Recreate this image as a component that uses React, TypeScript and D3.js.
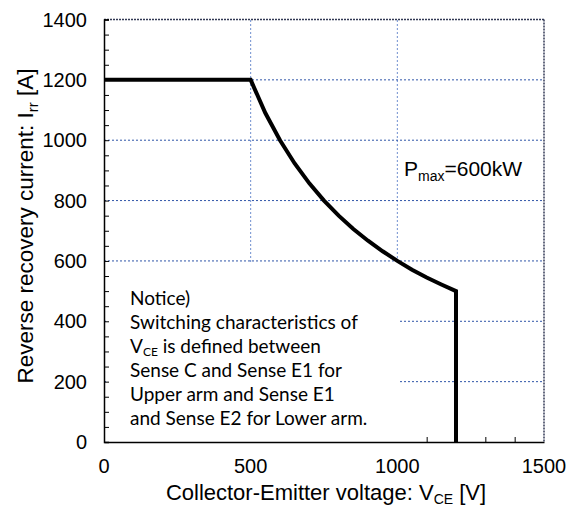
import React, { useEffect, useRef } from "react";
import * as d3 from "d3";

// chart values
const voltage = [0, 500, 550, 600, 650, 700, 750, 800, 850, 900, 950, 1000, 1050, 1100, 1150, 1200, 1200];
const current = [1200, 1200, 1090, 1000, 923, 857, 800, 750, 706, 667, 632, 600, 571, 545, 522, 500, 0];
const xTicks = [0, 500, 1000, 1500];
const yTicks = [0, 200, 400, 600, 800, 1000, 1200, 1400];
const xGrid = [500, 1000];
const yGrid = [200, 400, 600, 800, 1000, 1200];
const noticeLines = [
  "Notice)",
  "Switching characteristics of",
  "VCE is defined between",
  "Sense C and Sense E1 for",
  "Upper arm and Sense  E1",
  "and Sense E2 for Lower arm.",
];

const W = 574;
const H = 509;
const margin = { top: 19.5, right: 30, bottom: 67, left: 104 };

export default function App() {
  const ref = useRef<SVGSVGElement>(null);

  useEffect(() => {
    const svg = d3.select(ref.current);
    svg.selectAll("*").remove();

    const x = d3.scaleLinear().domain([0, 1500]).range([margin.left, W - margin.right]);
    const y = d3.scaleLinear().domain([0, 1400]).range([H - margin.bottom, margin.top]);
    const font = "'Liberation Sans', Arial, sans-serif";

    // grid lines
    svg.append("g")
      .selectAll("line")
      .data(xGrid)
      .enter()
      .append("line")
      .attr("x1", (d) => x(d))
      .attr("x2", (d) => x(d))
      .attr("y1", y(0))
      .attr("y2", y(1400))
      .attr("stroke", "#6f8fcf")
      .attr("stroke-width", 1)
      .attr("stroke-dasharray", "2,2");

    svg.append("g")
      .selectAll("line")
      .data(yGrid)
      .enter()
      .append("line")
      .attr("x1", x(0))
      .attr("x2", x(1500))
      .attr("y1", (d) => y(d))
      .attr("y2", (d) => y(d))
      .attr("stroke", "#2f55a8")
      .attr("stroke-width", 1)
      .attr("stroke-dasharray", "2,2");

    // notice box background (hides grid below)
    svg.append("rect")
      .attr("x", x(0) + 4)
      .attr("y", y(590))
      .attr("width", x(1000) - x(0) - 2)
      .attr("height", y(0) - y(590))
      .attr("fill", "white");

    // frame: top and right as dark dotted, left and bottom solid
    svg.append("line")
      .attr("x1", x(0)).attr("x2", x(1500))
      .attr("y1", y(1400)).attr("y2", y(1400))
      .attr("stroke", "#333a55").attr("stroke-width", 1.5).attr("stroke-dasharray", "2,1");
    svg.append("line")
      .attr("x1", x(1500)).attr("x2", x(1500))
      .attr("y1", y(1400)).attr("y2", y(0))
      .attr("stroke", "#333a55").attr("stroke-width", 1.5).attr("stroke-dasharray", "2,1");

    // y axis with minor ticks every 50
    const yAxis = d3.axisRight(y)
      .tickValues(d3.range(0, 1401, 50))
      .tickSize(5)
      .tickFormat(() => "");
    svg.append("g")
      .attr("transform", `translate(${x(0)},0)`)
      .call(yAxis)
      .call((g) => g.selectAll("line").attr("stroke", "#000"))
      .call((g) => g.select(".domain").attr("stroke", "#000").attr("stroke-width", 1.5));

    // x axis minor ticks, only visible outside of the notice box
    const xAxis = d3.axisTop(x)
      .tickValues(d3.range(1100, 1500, 100))
      .tickSize(5)
      .tickSizeOuter(0)
      .tickFormat(() => "");
    svg.append("g")
      .attr("transform", `translate(0,${y(0)})`)
      .call(xAxis)
      .call((g) => g.selectAll("line").attr("stroke", "#000"))
      .call((g) => g.select(".domain").attr("stroke", "#000").attr("stroke-width", 1.5));

    // tick labels
    svg.append("g")
      .selectAll("text")
      .data(yTicks)
      .enter()
      .append("text")
      .attr("x", x(0) - 17)
      .attr("y", (d) => y(d) + 7)
      .attr("text-anchor", "end")
      .style("font-family", font)
      .style("font-size", "20px")
      .text((d) => d);

    svg.append("g")
      .selectAll("text")
      .data(xTicks)
      .enter()
      .append("text")
      .attr("x", (d) => x(d))
      .attr("y", y(0) + 31)
      .attr("text-anchor", "middle")
      .style("font-family", font)
      .style("font-size", "20px")
      .text((d) => d);

    // curve
    const points = voltage.map((v, i) => [v, current[i]] as [number, number]);
    const line = d3.line<[number, number]>()
      .x((d) => x(d[0]))
      .y((d) => y(d[1]))
      .curve(d3.curveLinear);
    svg.append("path")
      .datum(points)
      .attr("fill", "none")
      .attr("stroke", "#000")
      .attr("stroke-width", 4)
      .attr("stroke-linejoin", "miter")
      .attr("d", line);

    // Pmax label
    const pm = svg.append("text")
      .attr("x", 404)
      .attr("y", 176)
      .style("font-family", font)
      .style("font-size", "21px");
    pm.append("tspan").text("P");
    pm.append("tspan").attr("dy", 5).style("font-size", "14px").text("max");
    pm.append("tspan").attr("dy", -5).text("=600kW");

    // notice text
    const notice = svg.append("g").style("font-family", "Lato, 'Open Sans', sans-serif").style("font-size", "19px");
    noticeLines.forEach((t, i) => {
      const txt = notice.append("text").attr("x", 130).attr("y", 305 + i * 24);
      if (t.startsWith("VCE")) {
        txt.append("tspan").text("V");
        txt.append("tspan").attr("dy", 3).style("font-size", "12px").text("CE");
        txt.append("tspan").attr("dy", -3).text(t.slice(3));
      } else {
        txt.text(t);
      }
    });

    // axis titles
    const xt = svg.append("text")
      .attr("x", 326)
      .attr("y", 500)
      .attr("text-anchor", "middle")
      .style("font-family", font)
      .style("font-size", "22px");
    xt.append("tspan").text("Collector-Emitter voltage: V");
    xt.append("tspan").attr("dy", 4).style("font-size", "14px").text("CE");
    xt.append("tspan").attr("dy", -4).text(" [V]");

    const yt = svg.append("text")
      .attr("transform", `translate(33,${226}) rotate(-90)`)
      .attr("text-anchor", "middle")
      .style("font-family", font)
      .style("font-size", "22.5px");
    yt.append("tspan").text("Reverse recovery current: I");
    yt.append("tspan").attr("dy", 5).style("font-size", "15px").text("rr");
    yt.append("tspan").attr("dy", -5).text(" [A]");
  }, []);

  return (
    <svg
      ref={ref}
      width={W}
      height={H}
      style={{ position: "absolute", left: 0, top: 0, background: "white" }}
    />
  );
}
